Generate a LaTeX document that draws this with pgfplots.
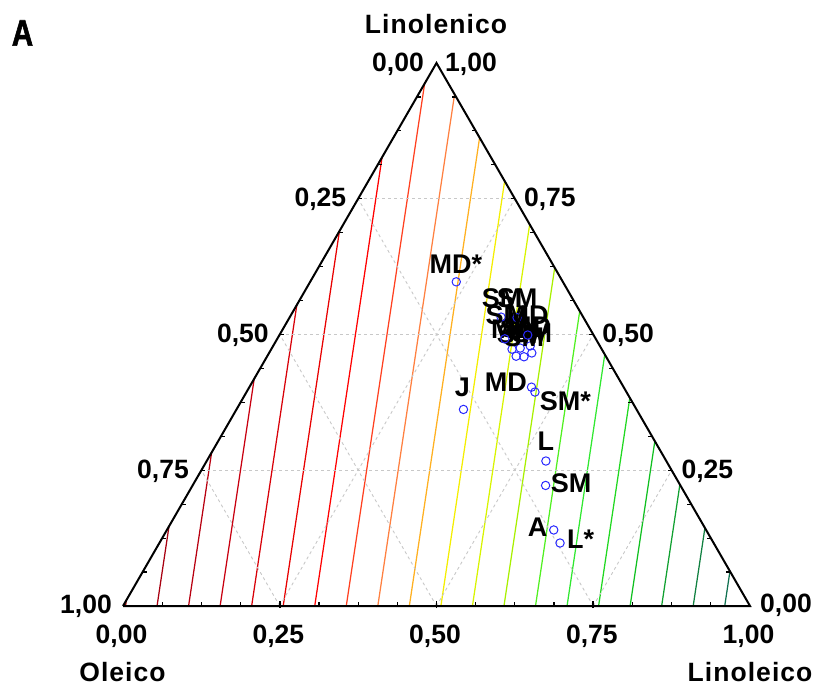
\documentclass[border=0pt]{standalone}
\usepackage{pgfplots}
\pgfplotsset{compat=1.18}
\usepackage{pgfplotstable}
\usepackage{fontspec}
\setmainfont{Liberation Sans}
\newfontfamily\wordfont{Liberation Sans}[LetterSpace=4]
\newfontfamily\panelfont{Liberation Sans}[FakeStretch=0.8, FakeBold=1.5]

% contour colours, dark red -> yellow -> dark green
\definecolor{c0}{HTML}{9C0000}
\definecolor{c1}{HTML}{A80010}
\definecolor{c2}{HTML}{B80010}
\definecolor{c3}{HTML}{C80010}
\definecolor{c4}{HTML}{D80008}
\definecolor{c5}{HTML}{E80000}
\definecolor{c6}{HTML}{FF0000}
\definecolor{c7}{HTML}{FF4020}
\definecolor{c8}{HTML}{FF8040}
\definecolor{c9}{HTML}{FFB020}
\definecolor{c10}{HTML}{F4EE00}
\definecolor{c11}{HTML}{D8F400}
\definecolor{c12}{HTML}{A8F000}
\definecolor{c13}{HTML}{50F020}
\definecolor{c14}{HTML}{30E830}
\definecolor{c15}{HTML}{20D820}
\definecolor{c16}{HTML}{10C020}
\definecolor{c17}{HTML}{10A030}
\definecolor{c18}{HTML}{108040}
\definecolor{c19}{HTML}{107050}
\definecolor{gridgray}{HTML}{C8C8C8}
\definecolor{ptblue}{HTML}{2828FF}

% samples: Oleico, Linoleico, Linolenico fractions, label and label offset (pt)
\pgfplotstableread{
ol     li     ln     lab  dx     dy
0.170  0.233  0.597  MD*  -0.3   18
0.276  0.362  0.362  J    -1     22.5
0.147  0.450  0.403  MD   -25.7  5.3
0.146  0.460  0.394  SM*  30.5   -8.7
0.192  0.541  0.267  L    0      20
0.215  0.563  0.222  SM   25.5   2
0.243  0.617  0.140  A    -16.2  2.7
0.245  0.639  0.116  L*   20.5   4.3
0.143  0.384  0.473  MD   0      20
0.129  0.396  0.475  SM   0      20
0.112  0.410  0.479  MD   0      20
0.143  0.397  0.460  SM   1      22.5
0.131  0.410  0.459  SM   0      20
0.115  0.419  0.466  SM   0      19.5
0.131  0.337  0.532  SM   1      18.5
0.145  0.363  0.492  SM   1      24
0.106  0.363  0.531  SM   0      19.5
0.105  0.396  0.499  MD   0      20
}\samples

\newcommand\numfont{\fontsize{26.5}{30}\selectfont\bfseries}
\newcommand\namefont{\fontsize{26.5}{30}\selectfont\wordfont\bfseries}
\newcommand\ptfont{\fontsize{27}{30}\selectfont\bfseries}
\tikzset{lab/.style={anchor=base, inner sep=0pt}}
\pgfplotsset{
  tgrid/.style={gridgray, line width=0.9pt, dash pattern=on 3pt off 3pt},
  iso/.style={line width=1.25pt},
}

\begin{document}
\begin{tikzpicture}
\begin{axis}[
  scale only axis, width=819pt, height=686pt,
  xmin=-0.196172, xmax=1.110048, ymin=-0.127592, ymax=0.966507,
  axis lines=none, clip=false,
  every axis plot/.append style={mark=none},
]
% iso-value lines of the fitted surface
\addplot[iso,c0]  coordinates {(0.0040,0) (0.00540,0.00936)};
\addplot[iso,c1]  coordinates {(0.0543,0) (0.07336,0.12706)};
\addplot[iso,c2]  coordinates {(0.1046,0) (0.14131,0.24476)};
\addplot[iso,c3]  coordinates {(0.1549,0) (0.20927,0.36247)};
\addplot[iso,c4]  coordinates {(0.2052,0) (0.27723,0.48017)};
\addplot[iso,c5]  coordinates {(0.2555,0) (0.34518,0.59787)};
\addplot[iso,c6]  coordinates {(0.3058,0) (0.41314,0.71557)};
\addplot[iso,c7]  coordinates {(0.3561,0) (0.48109,0.83327)};
\addplot[iso,c8]  coordinates {(0.4064,0) (0.52882,0.81611)};
\addplot[iso,c9]  coordinates {(0.4567,0) (0.56874,0.74695)};
\addplot[iso,c10] coordinates {(0.5070,0) (0.60867,0.67780)};
\addplot[iso,c11] coordinates {(0.5573,0) (0.64860,0.60865)};
\addplot[iso,c12] coordinates {(0.6076,0) (0.68852,0.53949)};
\addplot[iso,c13] coordinates {(0.6579,0) (0.72845,0.47034)};
\addplot[iso,c14] coordinates {(0.7082,0) (0.76838,0.40118)};
\addplot[iso,c15] coordinates {(0.7585,0) (0.80830,0.33203)};
\addplot[iso,c16] coordinates {(0.8088,0) (0.84823,0.26287)};
\addplot[iso,c17] coordinates {(0.8591,0) (0.88816,0.19372)};
\addplot[iso,c18] coordinates {(0.9094,0) (0.92808,0.12456)};
\addplot[iso,c19] coordinates {(0.9597,0) (0.96801,0.05541)};

% ternary grid at 0.25, 0.50, 0.75
\addplot[tgrid] coordinates {(0.125,0.216506) (0.875,0.216506)};
\addplot[tgrid] coordinates {(0.250,0.433013) (0.750,0.433013)};
\addplot[tgrid] coordinates {(0.375,0.649519) (0.625,0.649519)};
\addplot[tgrid] coordinates {(0.25,0) (0.625,0.649519)};
\addplot[tgrid] coordinates {(0.50,0) (0.750,0.433013)};
\addplot[tgrid] coordinates {(0.75,0) (0.875,0.216506)};
\addplot[tgrid] coordinates {(0.25,0) (0.125,0.216506)};
\addplot[tgrid] coordinates {(0.50,0) (0.250,0.433013)};
\addplot[tgrid] coordinates {(0.75,0) (0.375,0.649519)};

% triangle frame
\addplot[black, line width=2pt, line join=miter] coordinates {(0,0) (1,0) (0.5,0.8660254) (0,0)};

% edge ticks every 1/16
\pgfplotsinvokeforeach{1,...,15}{
  \draw[black, line width=1.2pt] (axis cs:{#1/16},0) -- ++(0pt,4pt);
  \draw[black, line width=1.2pt] (axis cs:{#1/32},{0.8660254*#1/16}) -- ++(4pt,0pt);
  \draw[black, line width=1.2pt] (axis cs:{1-#1/32},{0.8660254*#1/16}) -- ++(-4pt,0pt);
}
\pgfplotsinvokeforeach{4,8,12}{
  \draw[black, line width=1.6pt] (axis cs:{#1/16},0) ++(0pt,-2pt) -- ++(0pt,7pt);
}

% samples
\addplot[only marks, mark=o, mark size=4.2pt, ptblue, mark options={line width=1pt},
  point meta=explicit symbolic,
  visualization depends on={\thisrow{dx} \as \dx},
  visualization depends on={\thisrow{dy} \as \dy},
  nodes near coords,
  nodes near coords style={anchor=center, inner sep=0pt, text=black,
    font=\ptfont, xshift=\dx pt, yshift=\dy pt},
] table[x expr=\thisrow{li}+0.5*\thisrow{ln}, y expr=0.8660254*\thisrow{ln}, meta=lab] {\samples};

% axis texts
\node[lab, font=\namefont] at (axis cs:0.4992,0.9134) {Linolenico};
\node[lab, font=\namefont] at (axis cs:-0.0008,-0.1212) {Oleico};
\node[lab, font=\namefont] at (axis cs:1.0000,-0.1212) {Linoleico};
\node[lab, font=\numfont] at (axis cs:0.4386,0.8522) {0,00};
\node[lab, font=\numfont] at (axis cs:0.5550,0.8522) {1,00};
\node[lab, font=\numfont] at (axis cs:0.3147,0.6368) {0,25};
\node[lab, font=\numfont] at (axis cs:0.1911,0.4195) {0,50};
\node[lab, font=\numfont] at (axis cs:0.0638,0.2026) {0,75};
\node[lab, font=\numfont] at (axis cs:-0.0590,-0.0112) {1,00};
\node[lab, font=\numfont] at (axis cs:-0.0024,-0.0595) {0,00};
\node[lab, font=\numfont] at (axis cs:0.2477,-0.0595) {0,25};
\node[lab, font=\numfont] at (axis cs:0.4976,-0.0595) {0,50};
\node[lab, font=\numfont] at (axis cs:0.7477,-0.0595) {0,75};
\node[lab, font=\numfont] at (axis cs:0.9976,-0.0595) {1,00};
\node[lab, font=\numfont] at (axis cs:1.0574,-0.0107) {0,00};
\node[lab, font=\numfont] at (axis cs:0.9319,0.2026) {0,25};
\node[lab, font=\numfont] at (axis cs:0.8057,0.4195) {0,50};
\node[lab, font=\numfont] at (axis cs:0.6809,0.6368) {0,75};
\node[lab, font=\fontsize{37}{40}\selectfont\panelfont\bfseries] at (axis cs:-0.1603,0.8936) {A};
\end{axis}
\pgfresetboundingbox
\useasboundingbox (current axis.south west) rectangle (current axis.north east);
\end{tikzpicture}
\end{document}
